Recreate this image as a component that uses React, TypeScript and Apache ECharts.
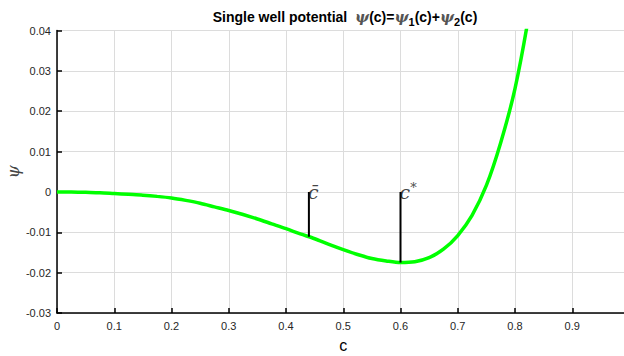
import React, { useEffect, useRef } from "react";
import * as echarts from "echarts";

const cValues = [0, 0.025, 0.05, 0.075, 0.1, 0.125, 0.15, 0.175, 0.2, 0.225, 0.25, 0.275, 0.3, 0.325, 0.35, 0.375, 0.4, 0.425, 0.45, 0.475, 0.5, 0.525, 0.55, 0.575, 0.6, 0.625, 0.65, 0.675, 0.7, 0.725, 0.75, 0.775, 0.8, 0.825, 0.85];
const psiValues = [0, 0, -0.0001, -0.0002, -0.0004, -0.0006, -0.0008, -0.0011, -0.0015, -0.0021, -0.0028, -0.0037, -0.0046, -0.0056, -0.0067, -0.0079, -0.0091, -0.0104, -0.0116, -0.013, -0.0143, -0.0155, -0.0165, -0.0171, -0.0175, -0.0173, -0.0163, -0.0142, -0.0108, -0.0058, 0.0016, 0.0122, 0.0256, 0.0445, 0.068];

const markerC = [0.44, 0.6];
const markerPsi = [-0.0111, -0.0175];
const markerLabels = ["{c|c\u0304}", "{c|c}{sup|*}"];

export default function App() {
  const ref = useRef<HTMLDivElement>(null);
  useEffect(() => {
    if (!ref.current) return;
    const chart = echarts.init(ref.current, null, { renderer: "svg" });
    const markerSeries = markerC.map((c, i) => ({
      type: "line",
      data: [
        [c, markerPsi[i]],
        [c, 0],
      ],
      showSymbol: false,
      symbol: "none",
      lineStyle: { color: "#000", width: 2 },
      silent: true,
      z: 3,
    }));
    chart.setOption({
      animation: false,
      title: {
        left: 340,
        textAlign: "center",
        top: 2,
        text: "{b|Single well potential  }{p|\u03c8}{b|(c)=}{p|\u03c8}{s|1}{b|(c)+}{p|\u03c8}{s|2}{b|(c)}",
        textStyle: {
          rich: {
            b: { fontFamily: "Liberation Sans", fontWeight: "bold", fontSize: 14, color: "#000", lineHeight: 20, verticalAlign: "middle" },
            p: { fontFamily: "DejaVu Serif", fontStyle: "italic", fontSize: 15, color: "#555", lineHeight: 20, verticalAlign: "middle" },
            s: { fontFamily: "Liberation Sans", fontWeight: "bold", fontSize: 11, color: "#000", lineHeight: 20, verticalAlign: "bottom", padding: [9, 0, 0, 0] },
          },
        },
      },
      grid: { left: 57, right: -5.5, top: 30.5, bottom: 43, containLabel: false, outerBoundsMode: "none" },
      xAxis: {
        type: "value",
        min: 0,
        max: 1,
        interval: 0.1,
        name: "c",
        nameLocation: "middle",
        nameGap: 24,
        nameMoveOverlap: false,
        nameTextStyle: { fontFamily: "Liberation Sans", fontSize: 16, color: "#000" },
        axisLine: { show: true, onZero: false, lineStyle: { color: "#000", width: 1.5 } },
        axisTick: { show: true, inside: true, length: 5, lineStyle: { color: "#000", width: 1.5 } },
        axisLabel: {
          showMaxLabel: false,
          fontFamily: "Liberation Sans",
          fontSize: 11,
          color: "#262626",
          margin: 7,
          formatter: (v: number) => (Math.abs(v) < 1e-9 ? "0" : String(Math.round(v * 10) / 10)),
        },
        splitLine: { show: true, lineStyle: { color: "#dcdcdc", width: 1 } },
      },
      yAxis: {
        type: "value",
        min: -0.03,
        max: 0.04,
        interval: 0.01,
        name: "\u03c8",
        nameLocation: "middle",
        nameRotate: 90,
        nameGap: 36,
        nameMoveOverlap: false,
        nameTextStyle: { fontFamily: "DejaVu Serif", fontStyle: "italic", fontSize: 17, color: "#444" },
        axisLine: { show: true, lineStyle: { color: "#000", width: 1.5 } },
        axisTick: { show: true, inside: true, length: 5, lineStyle: { color: "#000", width: 1.5 } },
        axisLabel: {
          fontFamily: "Liberation Sans",
          fontSize: 11,
          color: "#262626",
          margin: 6,
          formatter: (v: number) => (Math.abs(v) < 1e-9 ? "0" : v.toFixed(2)),
        },
        splitLine: { show: true, lineStyle: { color: "#dcdcdc", width: 1 } },
      },
      series: [
        {
          type: "line",
          data: cValues.map((c, i) => [c, psiValues[i]]),
          smooth: 0.3,
          showSymbol: false,
          symbol: "none",
          lineStyle: { color: "#00ff00", width: 3.5 },
          clip: true,
          z: 2,
        },
        ...markerSeries,
        {
          type: "scatter",
          symbol: "circle",
          symbolSize: 0,
          silent: true,
          z: 4,
          data: markerC.map((c, i) => ({
            value: [c, 0],
            label: {
              show: true,
              position: "right",
              distance: 0,
              offset: [-1, 0],
              fontSize: 19,
              fontFamily: "DejaVu Serif",
              fontStyle: "italic",
              color: "#000",
              textBorderWidth: 0,
              formatter: markerLabels[i],
              rich: {
                c: { fontFamily: "DejaVu Serif", fontStyle: "italic", fontSize: 19, color: "#111", textBorderWidth: 0, lineHeight: 22 },
                sup: { fontFamily: "DejaVu Serif", fontSize: 13, color: "#111", textBorderWidth: 0, verticalAlign: "top", lineHeight: 22, padding: [0, 0, 10, 0] },
              },
            },
          })),
        },
      ],
    });
    return () => chart.dispose();
  }, []);
  return <div ref={ref} style={{ position: "absolute", left: 0, top: 0, width: 624, height: 356 }} />;
}
